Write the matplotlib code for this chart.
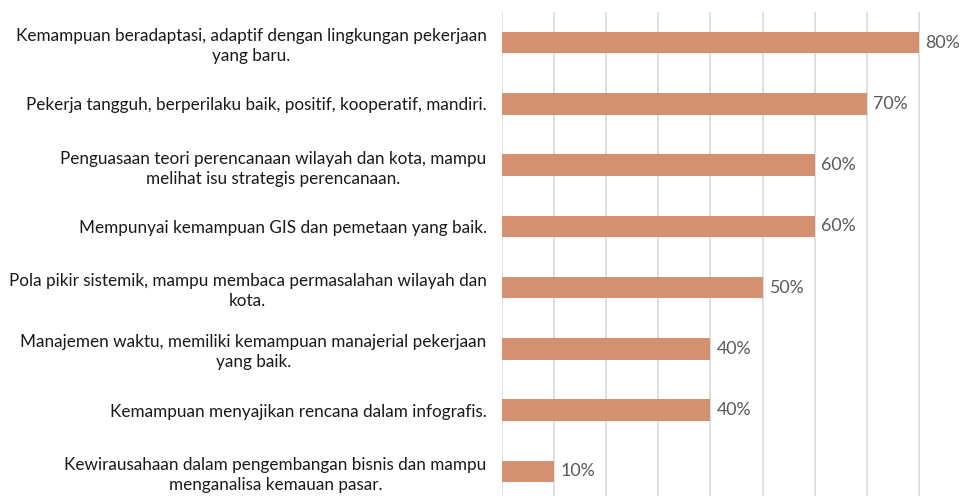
import matplotlib
matplotlib.use("Agg")
import matplotlib.pyplot as plt

categories = [
    "Kemampuan beradaptasi, adaptif dengan lingkungan pekerjaan\nyang baru.",
    "Pekerja tangguh, berperilaku baik, positif, kooperatif, mandiri.",
    "Penguasaan teori perencanaan wilayah dan kota, mampu\nmelihat isu strategis perencanaan.",
    "Mempunyai kemampuan GIS dan pemetaan yang baik.",
    "Pola pikir sistemik, mampu membaca permasalahan wilayah dan\nkota.",
    "Manajemen waktu, memiliki kemampuan manajerial pekerjaan\nyang baik.",
    "Kemampuan menyajikan rencana dalam infografis.",
    "Kewirausahaan dalam pengembangan bisnis dan mampu\nmenganalisa kemauan pasar.",
]
values = [80, 70, 60, 60, 50, 40, 40, 10]
value_labels = ["80%", "70%", "60%", "60%", "50%", "40%", "40%", "10%"]

plt.rcParams['font.family'] = ['Lato', 'DejaVu Sans']

fig = plt.figure(figsize=(9.61, 4.96), dpi=100)
W, H = 961, 496
x0, x1 = 502, 961
ytop, ybot = 12, 502
ax = fig.add_axes([x0 / W, (H - ybot) / H, (x1 - x0) / W, (ybot - ytop) / H])

pos = list(range(len(categories)))
ax.barh(pos, values, height=0.35, color='#D4916F', zorder=2)
ax.set_ylim(len(categories) - 0.5, -0.5)
ax.set_xlim(0, (x1 - x0) / 52.1 * 10)
ax.set_xticks([10 * i for i in range(9)])
ax.xaxis.grid(True, color='#D9D9D9', linewidth=1.2, zorder=0)
ax.tick_params(axis='x', length=0, labelbottom=False)
ax.tick_params(axis='y', length=0, pad=11)
ax.set_yticks(pos)
ax.set_yticklabels(categories, fontsize=12.3, color='#1a1a1a', ha='right', multialignment='center', linespacing=1.3)
for s in ax.spines.values():
    s.set_visible(False)
for p, v, t in zip(pos, values, value_labels):
    ax.text(v + 1.3, p, t, va='center', ha='left', fontsize=12.8, color='#595959')

fig.savefig("out.png", dpi=100)
